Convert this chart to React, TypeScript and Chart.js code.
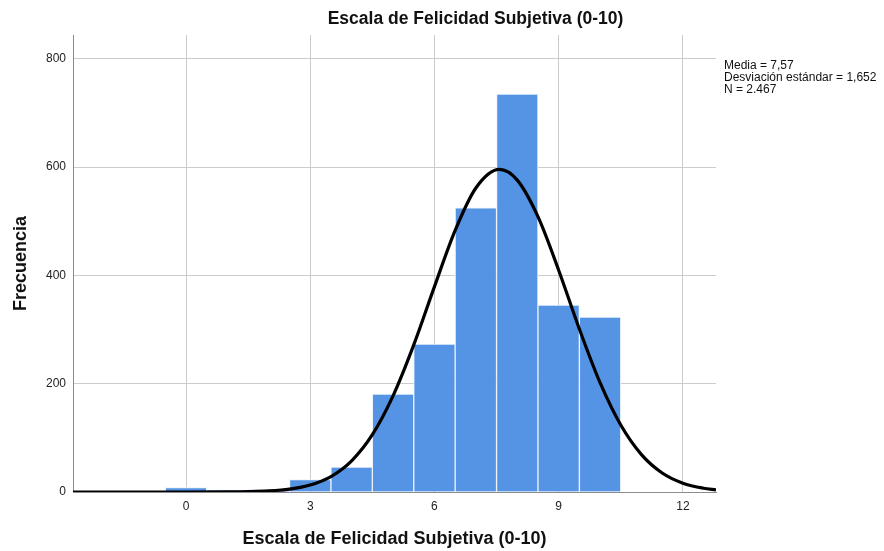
import React, { useEffect, useRef } from "react";
import { Chart, registerables } from "chart.js";

Chart.register(...registerables);

// ---- Data ----
const binCenters = [0, 1, 2, 3, 4, 5, 6, 7, 8, 9, 10];
const frequencies = [8, 3, 5, 23, 46, 181, 273, 525, 735, 345, 323];

// Fitted normal curve (Media 7,57; DE 1,652; N 2.467)
const curveX = [-2.73, -1, 0, 1, 1.5, 2, 2.5, 3, 3.5, 4, 4.5, 5, 5.5, 6, 6.5, 7, 7.57, 8, 8.5, 9, 9.5, 10, 10.5, 11, 11.5, 12, 12.5, 12.8];
const curveY = [0, 0, 0, 0.2, 0.7, 2, 5.4, 13, 28.6, 57.7, 105.9, 177.6, 271.7, 379.3, 483.1, 561.4, 595.8, 576, 508.5, 409.6, 301.1, 201.9, 123.6, 69, 35.1, 16.3, 6.9, 4];

const xTicks = [0, 3, 6, 9, 12];
const yTicks = [0, 200, 400, 600, 800];
const xRange = [-2.73, 12.8];
const yRange = [0, 844];

const chartTitle = "Escala de Felicidad Subjetiva (0-10)";
const xTitle = "Escala de Felicidad Subjetiva (0-10)";
const yTitle = "Frecuencia";
const statsLines = ["Media = 7,57", "Desviación estándar = 1,652", "N = 2.467"];

const FONT = '"Liberation Sans", Arial, Helvetica, sans-serif';

const textPlugin = {
  id: "extraTexts",
  afterDraw(chart: any) {
    const { ctx, chartArea, width } = chart;
    ctx.save();
    ctx.fillStyle = "#111";
    ctx.font = `bold 17.5px ${FONT}`;
    ctx.textAlign = "center";
    ctx.textBaseline = "middle";
    ctx.fillText(chartTitle, (chartArea.left + width) / 2 - 3, chartArea.top / 2 + 2);

    ctx.font = `12px ${FONT}`;
    ctx.textAlign = "left";
    ctx.textBaseline = "alphabetic";
    statsLines.forEach((line, i) => {
      ctx.fillText(line, chartArea.right + 8, chartArea.top + 34 + i * 12);
    });
    ctx.restore();
  },
};

export default function App() {
  const canvasRef = useRef<HTMLCanvasElement | null>(null);

  useEffect(() => {
    document.body.style.margin = "0";
    const canvas = canvasRef.current;
    if (!canvas) return;
    Chart.defaults.font.family = FONT;

    const chart = new Chart(canvas, {
      type: "bar",
      data: {
        datasets: [
          {
            type: "line",
            data: curveX.map((x, i) => ({ x, y: curveY[i] })),
            borderColor: "#000000",
            borderWidth: 3.2,
            pointRadius: 0,
            fill: false,
            cubicInterpolationMode: "monotone",
            order: 1,
          } as any,
          {
            type: "bar",
            data: binCenters.map((x, i) => ({ x, y: frequencies[i] })),
            backgroundColor: "#5594e4",
            borderColor: "rgba(235,242,252,0.95)",
            borderWidth: 1,
            barPercentage: 1,
            categoryPercentage: 1,
            order: 2,
          } as any,
        ],
      },
      options: {
        animation: false,
        responsive: true,
        maintainAspectRatio: false,
        layout: { padding: { top: 35, right: 168, left: 0, bottom: 0 } },
        plugins: {
          legend: { display: false },
          tooltip: { enabled: false },
          title: { display: false },
        },
        events: [],
        scales: {
          x: {
            type: "linear",
            min: xRange[0],
            max: xRange[1],
            offset: false,
            grid: { color: "#cccccc", offset: false, drawTicks: false, lineWidth: 1 },
            border: { color: "#8c8c8c", width: 1 },
            ticks: { padding: 7, color: "#222", font: { size: 12 } },
            afterBuildTicks: (s: any) => {
              s.ticks = xTicks.map((v) => ({ value: v }));
            },
            afterFit: (s: any) => {
              s.height = 59;
            },
            title: {
              display: true,
              text: xTitle,
              color: "#111",
              font: { size: 18, weight: "bold" },
              padding: { top: 0, bottom: 1 },
            },
          } as any,
          y: {
            type: "linear",
            min: yRange[0],
            max: yRange[1],
            grid: { color: "#cccccc", drawTicks: false, lineWidth: 1 },
            border: { color: "#8c8c8c", width: 1 },
            ticks: { padding: 7, color: "#222", font: { size: 12 } },
            afterBuildTicks: (s: any) => {
              s.ticks = yTicks.map((v) => ({ value: v }));
            },
            afterFit: (s: any) => {
              s.width = 73;
            },
            title: {
              display: true,
              text: yTitle,
              color: "#111",
              font: { size: 18, weight: "bold" },
              padding: { top: 10, bottom: 0 },
            },
          } as any,
        },
      },
      plugins: [textPlugin],
    });

    return () => chart.destroy();
  }, []);

  return (
    <div style={{ width: 884, height: 551, position: "relative" }}>
      <canvas ref={canvasRef} />
    </div>
  );
}
